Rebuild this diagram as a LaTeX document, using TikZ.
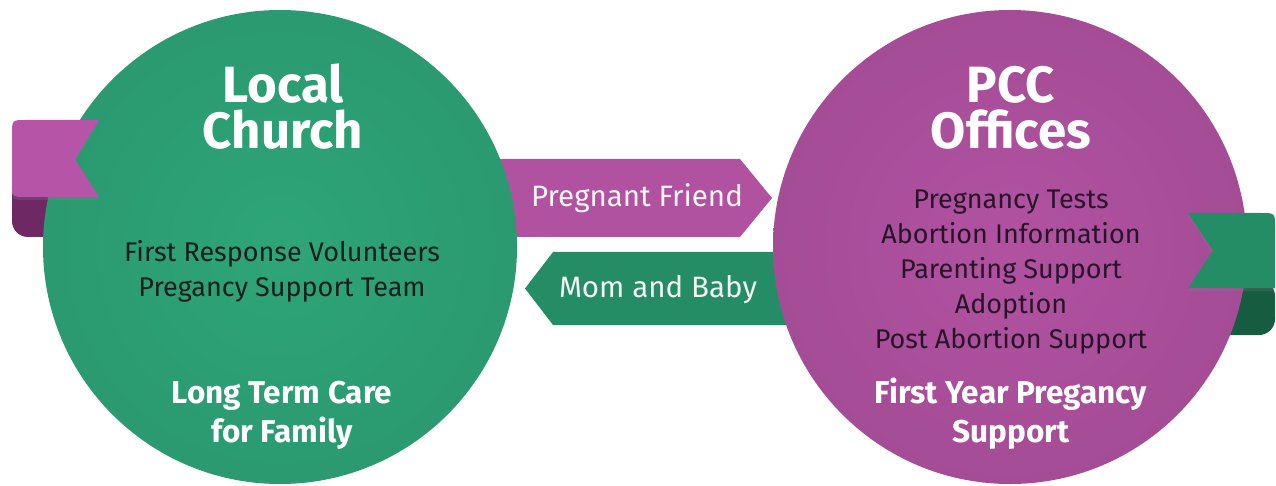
\documentclass[tikz,border=0pt]{standalone}
\usepackage{fontspec}
\setmainfont{Fira Sans}
\usetikzlibrary{shadows}
\definecolor{churchgreen}{RGB}{46,165,121}
\definecolor{ribbongreen}{RGB}{37,141,102}
\definecolor{curlgreen}{RGB}{22,92,64}
\definecolor{pccpink}{RGB}{177,82,161}
\definecolor{ribbonpink}{RGB}{182,84,167}
\definecolor{curlpink}{RGB}{110,40,100}
\definecolor{greentext}{RGB}{24,30,28}
\definecolor{pinktext}{RGB}{40,20,40}
\tikzset{
    title/.style={text=white, font=\fontsize{51}{46}\selectfont\bfseries, align=center, anchor=base},
    list/.style={font=\fontsize{27}{35}\selectfont, align=center, anchor=base},
    footer/.style={text=white, font=\fontsize{31.5}{39}\selectfont\bfseries, align=center, anchor=base},
    tag/.style={text=white!92!gray, font=\fontsize{29.5}{29.5}\selectfont, anchor=base},
    office/.style={circle, minimum size=474pt, inner sep=0pt},
    flagshadow/.style={drop shadow={opacity=0.25, shadow xshift=0pt, shadow yshift=-3pt}},
}
\begin{document}
\begin{tikzpicture}[x=1pt, y=-1pt]
    \useasboundingbox (0,0) rectangle (1276,486);
    % the two ways between the circles
    \fill[pccpink] (500,159) -- (740,159) -- (772,198) -- (740,237) -- (500,237) -- cycle;
    \fill[ribbongreen] (553,252) -- (800,252) -- (800,325) -- (553,325) -- (525,288.5) -- cycle;
    % curls of the ribbons, behind the circles
    \fill[curlpink, rounded corners=16] (12,180) -- (12,237) -- (70,237) -- (70,180) -- cycle;
    \fill[curlgreen, rounded corners=16] (1200,280) -- (1275,280) -- (1275,335) -- (1200,335) -- cycle;
    \node[office, shade, inner color=churchgreen, outer color=churchgreen!93!black] (church) at (280,247) {};
    \node[office, shade, inner color=pccpink, outer color=pccpink!93!black] (pcc) at (1010,247) {};
    % ribbons
    \fill[ribbonpink, flagshadow] (99,197) -- (26,197) .. controls (12,197) .. (12,183) -- (12,134)
        .. controls (12,120) .. (26,120) -- (99,120) -- (75,159) -- cycle;
    \fill[ribbongreen, flagshadow] (1188,213) -- (1261,213) .. controls (1275,213) .. (1275,227)
        -- (1275,288) -- (1188,288) -- (1213,250.5) -- cycle;
    \node[title] (churchtitle) at (283,149) {Local\\Church};
    \node[list, text=greentext] (churchteam) at (282,296) {First Response Volunteers\\Pregancy Support Team};
    \node[footer] (churchcare) at (282,442) {Long Term Care\\for Family};
    \node[title] (pcctitle) at (1011,149) {PCC\\Offices};
    \node[list, text=pinktext] (pccservices) at (1011,348) {Pregnancy Tests\\Abortion Information\\Parenting Support\\Adoption\\Post Abortion Support};
    \node[footer] (pccyear) at (1011,442) {First Year Pregancy\\Support};
    \node[tag] (friend) at (637,207) {Pregnant Friend};
    \node[tag] (baby) at (658,297) {Mom and Baby};
\end{tikzpicture}
\end{document}
